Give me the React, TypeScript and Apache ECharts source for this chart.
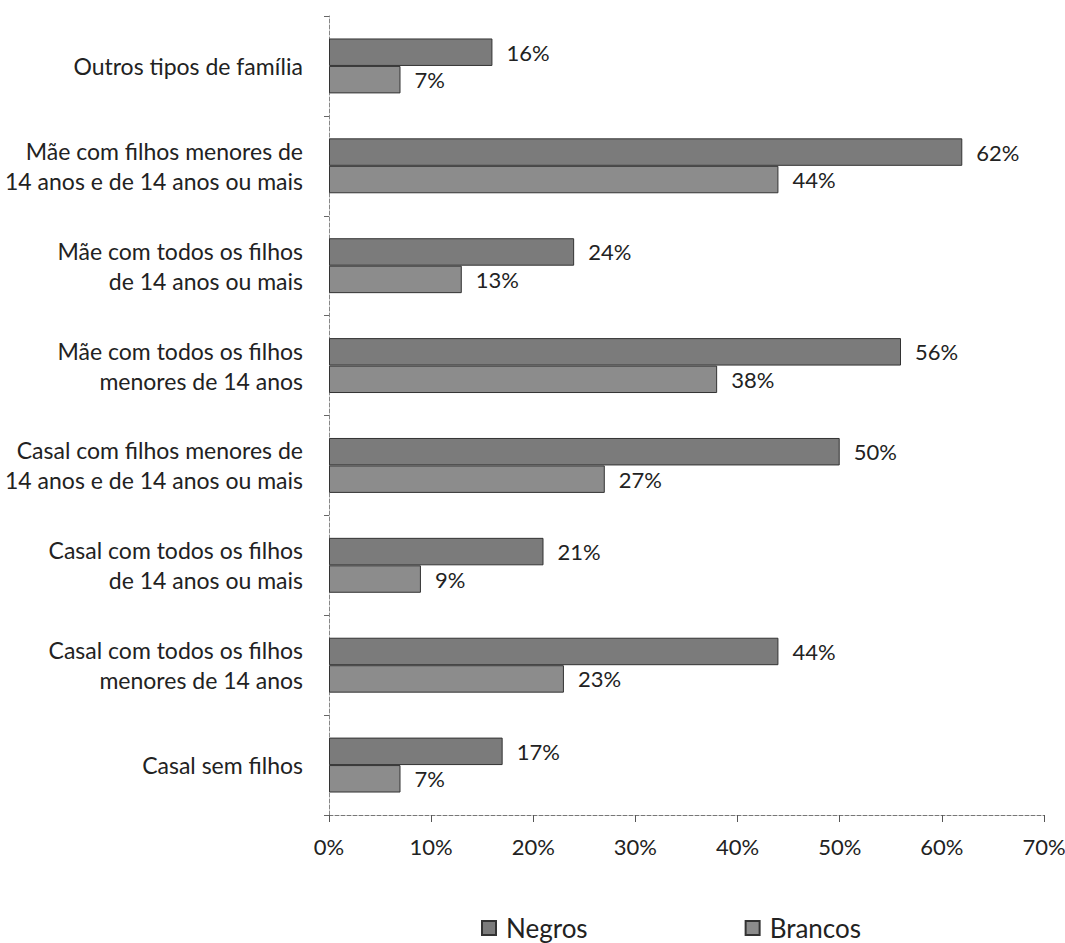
import React, { useEffect, useRef } from "react";
import * as echarts from "echarts";

const categories = [
  "Casal sem filhos",
  "Casal com todos os filhos\nmenores de 14 anos",
  "Casal com todos os filhos\nde 14 anos ou mais",
  "Casal com filhos menores de\n14 anos e de 14 anos ou mais",
  "Mãe com todos os filhos\nmenores de 14 anos",
  "Mãe com todos os filhos\nde 14 anos ou mais",
  "Mãe com filhos menores de\n14 anos e de 14 anos ou mais",
  "Outros tipos de família",
];
const negros = [17, 44, 21, 50, 56, 24, 62, 16];
const brancos = [7, 23, 9, 27, 38, 13, 44, 7];
const xTicks = [0, 10, 20, 30, 40, 50, 60, 70];

const FONT = "Lato, 'Open Sans', sans-serif";

export default function App() {
  const ref = useRef<HTMLDivElement>(null);
  useEffect(() => {
    const chart = echarts.init(ref.current!, null, { renderer: "svg" });
    const labelCfg = {
      show: true,
      position: "right",
      distance: 14,
      formatter: (p: any) => p.value + "%",
      color: "#222",
      fontSize: 22,
      fontFamily: FONT,
    };
    chart.setOption({
      animation: false,
      backgroundColor: "#fff",
      grid: { left: 329, right: 21, top: 16, bottom: 128, outerBoundsMode: "none", containLabel: false },
      xAxis: {
        type: "value",
        min: 0,
        max: 70,
        interval: 10,
        axisLine: { show: true, lineStyle: { color: "#777", type: "dashed" } },
        axisTick: { show: true, length: 7, lineStyle: { color: "#555" } },
        splitLine: { show: false },
        axisLabel: {
          formatter: (v: number) => (xTicks.includes(v) ? v + "%" : ""),
          color: "#222",
          fontSize: 22,
          fontFamily: FONT,
          margin: 20,
        },
      },
      yAxis: {
        type: "category",
        data: categories,
        axisLine: { show: true, lineStyle: { color: "#888", type: "dashed" } },
        axisTick: { show: true, length: 5, lineStyle: { color: "#666" } },
        axisLabel: {
          color: "#222",
          fontSize: 23,
          fontFamily: FONT,
          lineHeight: 30,
          margin: 26,
          align: "right",
        },
      },
      legend: {
        top: 915,
        left: 481,
        itemGap: 157,
        itemWidth: 14,
        itemHeight: 14,
        icon: "rect",
        padding: 0,
        textStyle: {
          fontSize: 26,
          lineHeight: 26,
          fontFamily: FONT,
          color: "#222",
          padding: [0, 0, 0, 5],
        },
        data: ["Negros", "Brancos"],
      },
      series: [
        {
          name: "Negros",
          type: "bar",
          data: negros,
          barGap: "0%",
          barCategoryGap: "45%",
          itemStyle: { color: "#7b7b7b", borderColor: "#333", borderWidth: 1 },
          label: labelCfg,
        },
        {
          name: "Brancos",
          type: "bar",
          data: brancos,
          barGap: "0%",
          barCategoryGap: "45%",
          itemStyle: { color: "#8c8c8c", borderColor: "#333", borderWidth: 1 },
          label: labelCfg,
        },
      ],
    });
    return () => chart.dispose();
  }, []);
  return (
    <div
      ref={ref}
      style={{ position: "fixed", left: 0, top: 0, width: 1065, height: 943 }}
    />
  );
}
